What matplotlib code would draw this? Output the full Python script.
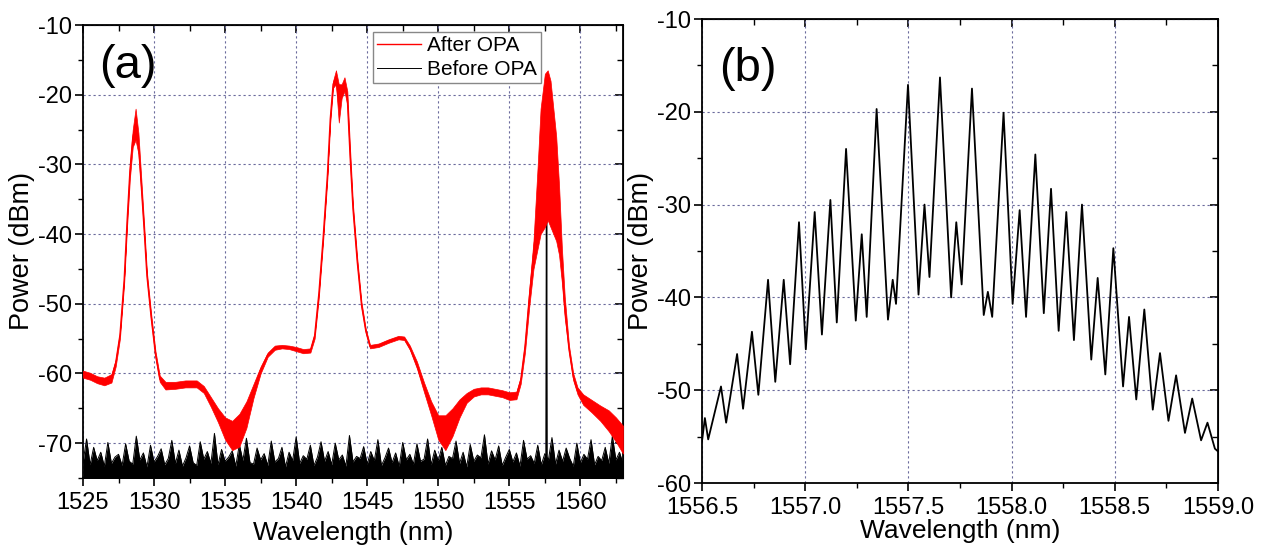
import numpy as np
import matplotlib
matplotlib.use("Agg")
import matplotlib.pyplot as plt
from matplotlib.ticker import MultipleLocator, FormatStrFormatter

plt.rcParams['font.family'] = ['Liberation Sans', 'DejaVu Sans']
plt.rcParams['axes.unicode_minus'] = False

# ---- panel (a): spectrum after OPA (red), read as a lower/upper noise band
red_wl = [1525.0, 1525.5, 1526.0, 1526.5, 1527.0, 1527.3, 1527.6, 1527.9, 1528.1, 1528.3,
          1528.5, 1528.7, 1528.9, 1529.1, 1529.3, 1529.5, 1529.8, 1530.1, 1530.4, 1530.8,
          1531.5, 1532.2, 1533.0, 1533.5, 1534.0, 1534.5, 1535.0, 1535.5, 1536.0, 1536.5,
          1537.0, 1537.5, 1538.0, 1538.5, 1539.0, 1539.5, 1540.0, 1540.5, 1541.0, 1541.3,
          1541.6, 1541.9, 1542.2, 1542.4, 1542.6, 1542.8, 1543.0, 1543.2, 1543.4, 1543.6,
          1543.8, 1544.0, 1544.3, 1544.6, 1544.9, 1545.2, 1545.8, 1546.5, 1547.2, 1547.6,
          1548.0, 1548.5, 1549.0, 1549.5, 1550.0, 1550.5, 1551.0, 1551.5, 1552.0, 1552.5,
          1553.0, 1553.5, 1554.0, 1554.5, 1555.0, 1555.5, 1555.8, 1556.1, 1556.4, 1556.7,
          1557.0, 1557.2, 1557.5, 1557.7, 1557.9, 1558.1, 1558.3, 1558.5, 1558.7, 1558.9,
          1559.2, 1559.5, 1559.8, 1560.2, 1560.8, 1561.4, 1562.0, 1562.5, 1563.0]
red_lo = [-60.6, -60.9, -61.4, -61.7, -61.3, -59.0, -55.0, -47.0, -39.0, -32.0,
          -27.5, -26.5, -28.5, -34.0, -40.0, -46.5, -52.5, -57.7, -61.2, -62.3,
          -62.2, -62.0, -62.0, -62.8, -64.8, -67.0, -69.5, -71.0, -70.5, -67.8,
          -63.5, -60.0, -57.6, -56.6, -56.4, -56.5, -56.8, -57.1, -57.0, -55.0,
          -49.0, -41.0, -32.0, -24.0, -19.0, -18.5, -24.0, -20.5, -19.5, -21.5,
          -30.0, -37.0, -44.5, -50.6, -54.2, -56.4, -56.2, -55.6, -55.1, -55.2,
          -56.6, -59.3, -62.7, -66.0, -69.5, -71.0, -69.0, -66.3, -64.2, -63.3,
          -63.0, -63.0, -63.2, -63.4, -63.8, -63.7, -61.5, -57.0, -50.5, -45.0,
          -42.0, -40.0, -39.0, -38.0, -39.0, -40.0, -41.0, -43.0, -47.0, -52.0,
          -57.0, -61.0, -63.0, -64.5, -65.6, -66.8, -68.3, -69.8, -71.5]
red_hi = [-59.6, -59.9, -60.4, -60.6, -60.1, -58.0, -54.0, -46.0, -37.5, -30.0,
          -25.0, -22.0, -25.5, -32.0, -38.5, -45.5, -51.5, -56.8, -60.3, -61.2,
          -61.2, -61.0, -61.0, -61.8, -63.4, -65.0, -66.3, -66.8, -65.8, -64.0,
          -61.5, -59.0, -57.0, -56.0, -55.9, -56.0, -56.2, -56.5, -56.4, -54.2,
          -48.0, -40.0, -31.0, -23.0, -18.0, -16.5, -18.5, -18.5, -17.5, -19.5,
          -28.0, -35.8, -43.5, -49.8, -53.6, -55.9, -55.7, -55.1, -54.6, -54.7,
          -56.0, -58.3, -61.3, -64.0, -66.0, -66.0, -65.0, -63.7, -62.8, -62.2,
          -62.0, -62.0, -62.2, -62.4, -62.7, -62.6, -60.5, -55.5, -48.0, -41.0,
          -30.0, -22.0, -17.0, -16.5, -18.0, -22.0, -26.0, -33.0, -42.0, -49.0,
          -56.0, -60.0, -62.0, -63.0, -63.8, -64.6, -65.3, -66.3, -67.5]

# ---- panel (a): spectrum before OPA (black noise floor, 0.25 nm steps from 1525 nm)
before_pw = [-72.8, -69.4, -73.1, -70.6, -72.5, -71.3, -73.3, -69.9, -72.9, -72.0,
             -71.6, -73.2, -70.1, -72.6, -73.0, -69.0, -72.4, -71.4, -73.4, -70.3,
             -72.7, -71.9, -70.8, -73.1, -72.2, -69.6, -72.9, -71.0, -73.3, -72.1,
             -70.4, -72.8, -73.2, -69.8, -72.3, -71.2, -72.9, -68.6, -73.1, -70.9,
             -72.6, -72.0, -71.1, -73.3, -70.2, -72.5, -69.3, -72.8, -73.0, -70.7,
             -72.4, -71.5, -73.2, -69.7, -72.7, -72.2, -70.6, -73.4, -71.3, -72.5,
             -69.1, -72.9, -71.8, -72.3, -70.3, -73.2, -72.0, -69.8, -72.6, -71.2,
             -73.1, -70.0, -72.4, -71.7, -73.3, -68.9, -72.7, -71.9, -72.2, -70.5,
             -73.0, -71.2, -72.5, -69.5, -73.2, -72.1, -70.7, -72.8, -71.4, -73.3,
             -69.9, -72.4, -71.6, -73.0, -70.1, -72.6, -72.3, -69.4, -73.1, -71.0,
             -72.5, -70.6, -73.2, -71.9, -72.2, -69.7, -72.9, -71.3, -73.4, -70.2,
             -72.6, -71.7, -72.1, -68.8, -73.0, -71.1, -72.4, -70.4, -73.2, -72.0,
             -70.9, -72.7, -71.4, -73.3, -69.6, -72.3, -71.8, -72.9, -70.3, -73.1,
             -71.5, -72.4, -69.2, -73.0, -71.0, -72.6, -70.7, -72.2, -73.3, -70.0,
             -72.8, -71.6, -72.3, -69.5, -73.1, -71.9, -72.5, -70.6, -72.9, -69.0,
             -72.4, -71.3, -72.9]
before_wl = np.linspace(1525.0, 1563.0, len(before_pw))
pump_wl = [1557.58, 1557.62, 1557.66]
pump_pw = [-74.0, -34.0, -74.0]

# ---- panel (b): frequency comb, peaks and valleys
comb_wl = [1556.500, 1556.514, 1556.530, 1556.592, 1556.617, 1556.670, 1556.699, 1556.742, 1556.773,
           1556.820, 1556.855, 1556.896, 1556.927, 1556.970, 1557.003, 1557.046, 1557.081,
           1557.122, 1557.153, 1557.198, 1557.245, 1557.274, 1557.298, 1557.346, 1557.401,
           1557.424, 1557.440, 1557.498, 1557.549, 1557.578, 1557.602, 1557.653, 1557.707,
           1557.732, 1557.758, 1557.808, 1557.865, 1557.885, 1557.906, 1557.961, 1558.005,
           1558.039, 1558.070, 1558.115, 1558.156, 1558.191, 1558.228, 1558.265, 1558.302,
           1558.341, 1558.386, 1558.417, 1558.454, 1558.493, 1558.540, 1558.569, 1558.604,
           1558.643, 1558.684, 1558.719, 1558.760, 1558.797, 1558.840, 1558.875, 1558.918,
           1558.949, 1558.985, 1559.000]
comb_pw = [-55.5, -53.0, -55.3, -49.6, -53.5, -46.1, -52.0, -43.7, -50.5,
           -38.1, -49.1, -38.1, -47.2, -31.9, -45.6, -30.8, -44.0,
           -29.5, -42.7, -24.0, -42.5, -33.2, -42.1, -19.7, -42.4,
           -38.1, -40.7, -17.1, -39.7, -30.0, -37.8, -16.3, -40.0,
           -31.9, -38.6, -17.5, -41.9, -39.4, -42.1, -20.1, -40.7,
           -30.6, -42.1, -24.6, -41.7, -28.3, -43.6, -30.8, -44.6,
           -30.0, -46.7, -37.9, -48.3, -34.7, -49.6, -42.1, -51.0,
           -41.3, -52.1, -46.0, -53.3, -48.4, -54.6, -50.9, -55.4,
           -53.5, -56.3, -56.6]

fig = plt.figure(figsize=(12.62, 5.5), dpi=100)
W, H = 1262, 550
ax1 = fig.add_axes([83 / W, (H - 478) / H, 540 / W, 453 / H])
ax2 = fig.add_axes([702 / W, (H - 483) / H, 516 / W, 464 / H])

grid_kw = dict(color='#6a6a9c', lw=0.8, linestyle=(0, (2, 2.5)))


def style(ax, xmaj, xmin, ymaj, ymin, xpad):
    ax.xaxis.set_major_locator(MultipleLocator(xmaj))
    ax.xaxis.set_minor_locator(MultipleLocator(xmin))
    ax.yaxis.set_major_locator(MultipleLocator(ymaj))
    ax.yaxis.set_minor_locator(MultipleLocator(ymin))
    ax.grid(True, which='major', **grid_kw)
    ax.set_axisbelow(True)
    for s in ax.spines.values():
        s.set_linewidth(1.3)
    ax.tick_params(which='major', direction='out', length=6, width=1.2, labelsize=17, pad=2)
    ax.tick_params(which='minor', direction='out', length=3.5, width=1.0)
    ax.tick_params(axis='x', which='major', pad=4)
    # inward ticks on top and right
    top = ax.secondary_xaxis('top')
    top.xaxis.set_major_locator(MultipleLocator(xmaj))
    top.xaxis.set_minor_locator(MultipleLocator(xmin))
    top.tick_params(which='major', direction='in', length=6, width=1.2, labeltop=False)
    top.tick_params(which='minor', direction='in', length=4, width=1.0)
    right = ax.secondary_yaxis('right')
    right.yaxis.set_major_locator(MultipleLocator(ymaj))
    right.yaxis.set_minor_locator(MultipleLocator(ymin))
    right.tick_params(which='major', direction='in', length=6, width=1.2, labelright=False)
    right.tick_params(which='minor', direction='in', length=4, width=1.0)
    ax.set_xlabel('Wavelength (nm)', fontsize=19, labelpad=xpad)
    ax.set_ylabel('Power (dBm)', fontsize=19.5, labelpad=2)


# (a)
ax1.fill_between(before_wl, -80, before_pw, color='black', lw=0, zorder=2)
ax1.plot(before_wl, before_pw, color='black', lw=0.7, zorder=2, label='Before OPA')
ax1.plot(pump_wl, pump_pw, color='black', lw=1.0, zorder=2)
ax1.fill_between(red_wl, red_lo, red_hi, color='#ff0000', lw=0.5, edgecolor='#ff0000', zorder=3)
red_mid = (np.array(red_lo) + np.array(red_hi)) / 2
ax1.plot(red_wl, red_mid, color='#ff0000', lw=1.0, zorder=3, label='After OPA')
ax1.set_xlim(1525, 1563)
ax1.set_ylim(-75, -10)
style(ax1, 5, 2.5, 10, 5, 5)
h, l = ax1.get_legend_handles_labels()
leg = ax1.legend(h[::-1], l[::-1], loc='upper left', bbox_to_anchor=(0.537, 0.985),
                 fontsize=15, frameon=True, fancybox=False, framealpha=1,
                 edgecolor='#888888', handlelength=2.1, handletextpad=0.3,
                 labelspacing=0.25, borderpad=0.2, borderaxespad=0)
leg.get_frame().set_linewidth(1.0)
ax1.text(0.03, 0.91, '(a)', transform=ax1.transAxes, fontsize=34, va='center', ha='left')

# (b)
ax2.plot(comb_wl, comb_pw, color='black', lw=1.3, zorder=3)
ax2.set_xlim(1556.5, 1559.0)
ax2.set_ylim(-60, -10)
style(ax2, 0.5, 0.25, 10, 5, 0)
ax2.xaxis.set_major_formatter(FormatStrFormatter('%.1f'))
ax2.text(0.033, 0.893, '(b)', transform=ax2.transAxes, fontsize=34, va='center', ha='left')

fig.savefig('out.png', dpi=100)
